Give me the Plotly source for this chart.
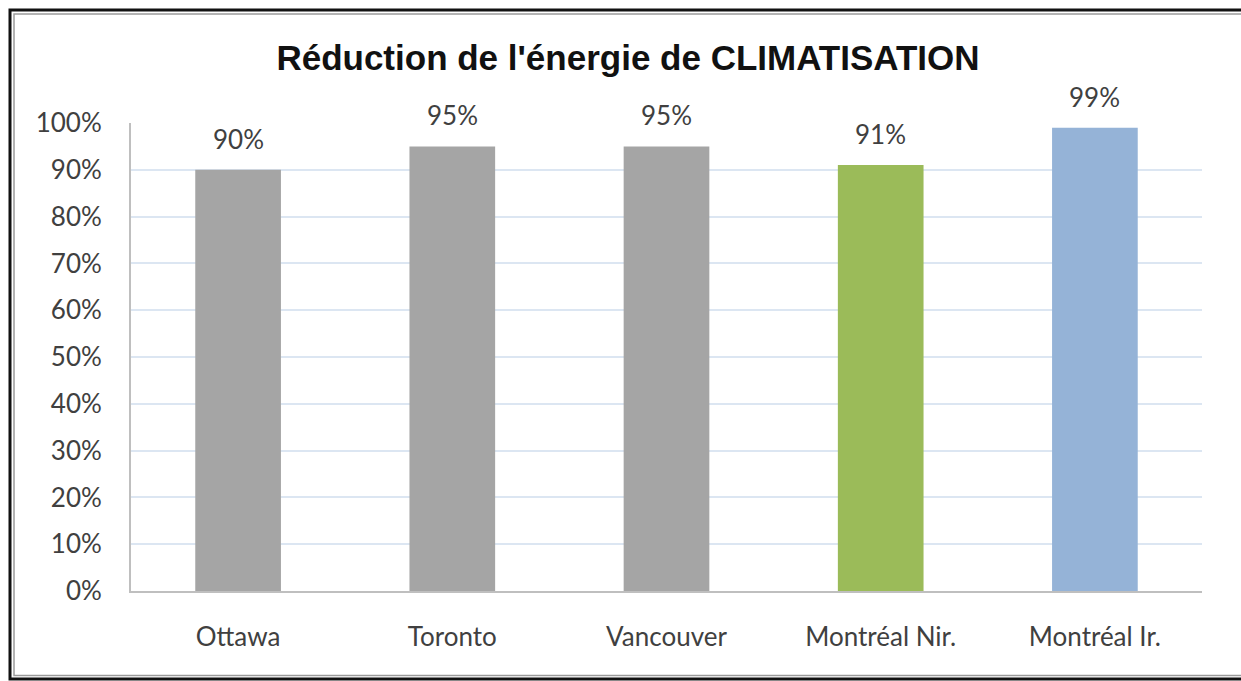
import plotly.graph_objects as go

categories = ["Ottawa", "Toronto", "Vancouver", "Montréal Nir.", "Montréal Ir."]
values = [0.90, 0.95, 0.95, 0.91, 0.99]
colors = ["#a5a5a5", "#a5a5a5", "#a5a5a5", "#9bbb59", "#95b3d7"]
labels = ["90%", "95%", "95%", "91%", "99%"]

W, H = 1241, 681
ml, mr, mt, mb = 131, W - 1202, 123, H - 591
pw, ph = W - ml - mr, H - mt - mb

def px(x):
    return (x - ml) / pw

def py(y):
    return 1 - (y - mt) / ph

FONT = "Lato, Carlito, sans-serif"

fig = go.Figure()
fig.add_trace(go.Bar(x=categories, y=values, marker=dict(color=colors, line=dict(width=0)), width=0.4,
                     hoverinfo="skip"))

for c, v, t in zip(categories, values, labels):
    fig.add_annotation(x=c, y=v, text=t, showarrow=False, yanchor="bottom", yshift=13,
                       font=dict(family=FONT, size=26, color="#404040"))

shapes = [
    dict(type="path", xref="paper", yref="paper",
         path=f"M {px(1400)},{py(10)} L {px(10)},{py(10)} L {px(10)},{py(679)} L {px(1400)},{py(679)}",
         line=dict(color="#111111", width=3), layer="below"),
    dict(type="path", xref="paper", yref="paper",
         path=f"M {px(1400)},{py(14)} L {px(14)},{py(14)} L {px(14)},{py(675.5)} L {px(1400)},{py(675.5)}",
         line=dict(color="#9a9a9a", width=1.5), layer="below"),
]

fig.update_layout(
    width=W, height=H,
    margin=dict(l=ml, r=mr, t=mt, b=mb),
    paper_bgcolor="white", plot_bgcolor="white",
    showlegend=False,
    shapes=shapes,
    title=dict(text="Réduction de l'énergie de CLIMATISATION", x=628 / W, xref="container", xanchor="center",
               y=1 - 58 / H, yref="container", yanchor="middle",
               font=dict(family="Liberation Sans, Arial, sans-serif", size=35, color="#111111", weight="bold")),
    xaxis=dict(showgrid=False, showline=True, linecolor="#bfbfbf", linewidth=2, ticks="",
               tickfont=dict(family=FONT, size=26, color="#404040"),
               ticklabelstandoff=22),
    yaxis=dict(range=[0, 1], dtick=0.1, tickformat=".0%", showgrid=True, gridcolor="#dce6f2", gridwidth=1.5,
               showline=True, linecolor="#bfbfbf", linewidth=2, ticks="", zeroline=False,
               tickfont=dict(family=FONT, size=26, color="#404040"),
               ticklabelstandoff=22),
)

fig.write_html("out.html", config={"displayModeBar": False},
               post_script="document.body.style.margin='0px';document.body.style.overflow='hidden';")
